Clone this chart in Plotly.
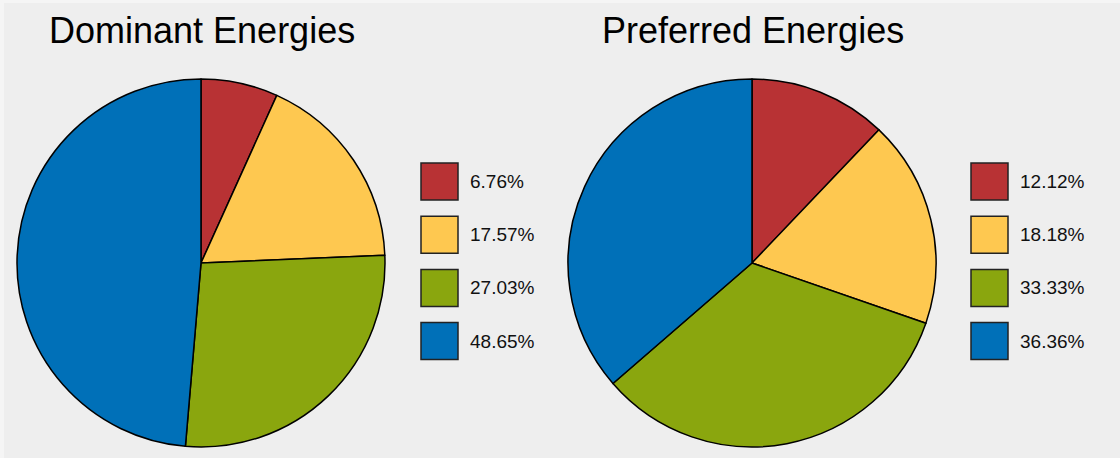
import plotly.graph_objects as go

categories = ["Red", "Yellow", "Green", "Blue"]
colors = ["#B83234", "#FEC850", "#8AA60E", "#0070B8"]
dominant_values = [5, 13, 20, 36]
preferred_values = [4, 6, 11, 12]
titles = ["Dominant Energies", "Preferred Energies"]

W, H = 1120, 458
FONT = "Arial, Liberation Sans, sans-serif"

def px_x(x):
    return x / W

def px_y(y):
    return 1 - y / H

fig = go.Figure()

pies = [
    (dominant_values, 201, 263),
    (preferred_values, 752, 263),
]
R = 184
for vals, cx, cy in pies:
    fig.add_trace(go.Pie(
        labels=categories, values=vals, sort=False, direction="clockwise",
        rotation=0, textinfo="none", hoverinfo="label+percent",
        marker=dict(colors=colors, line=dict(color="#000000", width=1.5)),
        domain=dict(x=[px_x(cx - R), px_x(cx + R)], y=[px_y(cy + R), px_y(cy - R)]),
        showlegend=False,
    ))

shapes = []
annotations = []
title_x = [202, 753]
for t, tx in zip(titles, title_x):
    annotations.append(dict(text=t, x=px_x(tx), y=px_y(31), xref="paper", yref="paper",
                            xanchor="center", yanchor="middle", showarrow=False,
                            font=dict(family=FONT, size=36, color="#000000")))

legend_x = [421, 971]
for (vals, _, _), lx in zip(pies, legend_x):
    total = sum(vals)
    for i, v in enumerate(vals):
        y0 = 163 + i * 53.2
        shapes.append(dict(type="rect", xref="paper", yref="paper",
                           x0=px_x(lx), x1=px_x(lx + 37), y0=px_y(y0 + 37), y1=px_y(y0),
                           fillcolor=colors[i], line=dict(color="#222222", width=1.5)))
        annotations.append(dict(text=f"{100 * v / total:.2f}%", x=px_x(lx + 47), y=px_y(y0 + 18.5),
                                xref="paper", yref="paper", xanchor="left", yanchor="middle",
                                showarrow=False, font=dict(family=FONT, size=19, color="#111111")))

# faint edge bands as in the reference
shapes.append(dict(type="rect", xref="paper", yref="paper", x0=0, x1=px_x(4), y0=0, y1=1,
                   fillcolor="#F5F5F5", line=dict(width=0), layer="below"))
shapes.append(dict(type="rect", xref="paper", yref="paper", x0=0, x1=1, y0=px_y(3), y1=1,
                   fillcolor="#F5F5F5", line=dict(width=0), layer="below"))

fig.update_layout(
    width=W, height=H, margin=dict(l=0, r=0, t=0, b=0),
    paper_bgcolor="#EEEEEE", plot_bgcolor="#EEEEEE",
    shapes=shapes, annotations=annotations,
)

fig.write_html("out.html", config={"displayModeBar": False},
               post_script="document.body.style.margin='0';document.body.style.padding='0';")
